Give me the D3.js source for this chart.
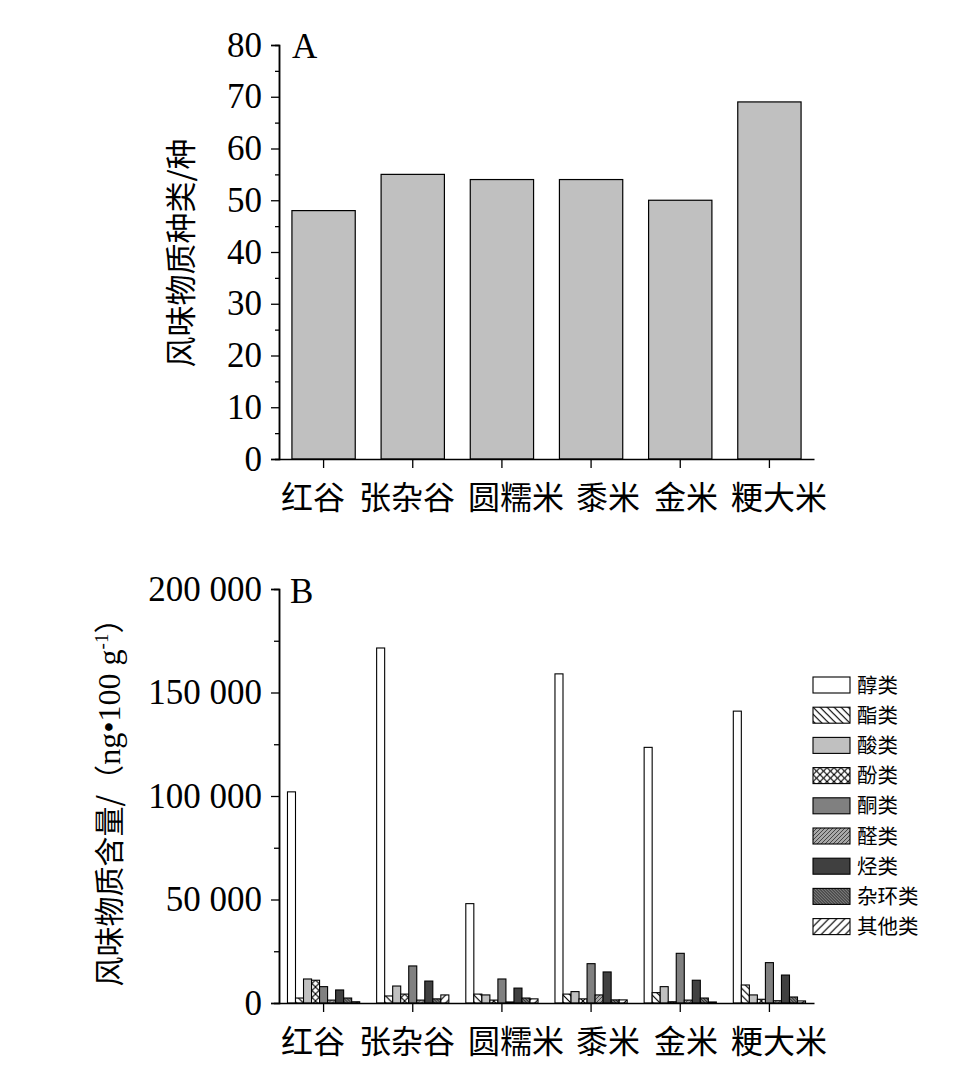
<!DOCTYPE html>
<html><head><meta charset="utf-8">
<script src="https://cdn.jsdelivr.net/npm/d3@7"></script>
<style>body{margin:0;background:#fff}svg{display:block}</style>
</head><body>
<svg id="c" width="973" height="1079"></svg>
<script>
const categories = ["红谷","张杂谷","圆糯米","黍米","金米","粳大米"];
const typeCounts = [48,55,54,54,50,69];
const classes = ["醇类","酯类","酸类","酚类","酮类","醛类","烃类","杂环类","其他类"];
const alcohols   = [102000,171500,48000,159000,123500,141000];
const esters     = [2400,3400,4300,4300,5000,8700];
const acids      = [11600,8200,3900,5500,7900,3900];
const phenols    = [11000,4300,1400,2000,600,1800];
const ketones    = [7900,17900,11600,19000,24000,19500];
const aldehydes  = [1400,1400,500,3900,1400,1100];
const hydrocarbons=[6300,10600,7200,15000,11000,13500];
const heterocycles=[2400,2000,2400,1500,2400,2900];
const others     = [600,3900,2000,1500,500,1000];
const seriesB = [alcohols,esters,acids,phenols,ketones,aldehydes,hydrocarbons,heterocycles,others];
const ticksA = [0,10,20,30,40,50,60,70,80];
const ticksB = [0,50000,100000,150000,200000];
const tickLabelsB = ["0","50 000","100 000","150 000","200 000"];
// label-row centres as laid out in the reference text line
const labelCentres = [313,407,516,608,686,779];

const svg = d3.select("#c");
const serif = "'Liberation Serif','DejaVu Serif',serif";
const cjk = "'Noto Sans CJK SC',sans-serif";
const defs = svg.append("defs");
function hatch(id,bg,col,sp,dirs,sw){
  const p = defs.append("pattern").attr("id",id).attr("patternUnits","userSpaceOnUse")
    .attr("width",sp).attr("height",sp);
  p.append("rect").attr("width",sp).attr("height",sp).attr("fill",bg);
  dirs.forEach(d=>{
    if(d==="/"){
      p.append("path").attr("d",`M0,${sp} L${sp},0 M${-sp/2},${sp/2} L${sp/2},${-sp/2} M${sp/2},${sp*1.5} L${sp*1.5},${sp/2}`).attr("stroke",col).attr("stroke-width",sw);
    } else {
      p.append("path").attr("d",`M0,0 L${sp},${sp} M${-sp/2},${sp/2} L${sp/2},${sp*1.5} M${sp/2},${-sp/2} L${sp*1.5},${sp/2}`).attr("stroke",col).attr("stroke-width",sw);
    }
  });
}
hatch("p1","#fff","#000",7,["\\"],1.2);
hatch("p3","#fff","#000",7,["/","\\"],1.1);
hatch("p5","#a8a8a8","#444",4,["/"],1);
hatch("p7","#777","#222",3,["\\"],0.9);
hatch("p8","#fff","#000",8,["/"],1.2);
const fills = ["#ffffff","url(#p1)","#c0c0c0","url(#p3)","#808080","url(#p5)","#404040","url(#p7)","url(#p8)"];

const x0 = 279, x1 = 814;
function labelRow(g,y){
  g.append("g").selectAll("text").data(categories).join("text")
    .attr("x",(d,i)=>labelCentres[i]).attr("y",y).attr("text-anchor","middle")
    .attr("font-family",cjk).attr("font-size",32).attr("fill","#000").text(d=>d);
}
// ---------- Panel A ----------
const xA = d3.scaleBand().domain(categories).range([x0,x1]).paddingInner(0.29).paddingOuter(0.145);
const yA = d3.scaleLinear().domain([0,80]).range([459,45]);
const gA = svg.append("g");
gA.selectAll("rect.a").data(categories).join("rect")
  .attr("x",d=>xA(d)).attr("width",xA.bandwidth())
  .attr("y",(d,i)=>yA(typeCounts[i])).attr("height",(d,i)=>yA(0)-yA(typeCounts[i]))
  .attr("fill","#c0c0c0").attr("stroke","#000").attr("stroke-width",1.2);
gA.append("g").attr("transform",`translate(${x0},0)`)
  .call(d3.axisLeft(yA).tickValues(d3.range(5,80,10)).tickSize(4).tickFormat(""));
const yAxisA2 = gA.append("g").attr("transform",`translate(${x0},0)`)
  .call(d3.axisLeft(yA).tickValues(ticksA).tickSize(8).tickPadding(9).tickFormat(d3.format("d")));
yAxisA2.selectAll("text").attr("font-family",serif).attr("font-size",35).attr("fill","#000");
gA.append("g").attr("transform",`translate(0,${yA(0)})`)
  .call(d3.axisBottom(xA).tickSize(9).tickSizeOuter(0).tickFormat(""));
gA.selectAll(".domain").attr("stroke","#000").attr("stroke-width",1.5);
gA.selectAll(".tick line").attr("stroke","#000").attr("stroke-width",1.3);
gA.append("text").attr("x",292).attr("y",58).attr("font-family",serif).attr("font-size",35).text("A");
gA.append("text").attr("transform","translate(192,253) rotate(-90)").attr("text-anchor","middle")
  .attr("font-family",cjk).attr("font-size",31).text("风味物质种类/种");
labelRow(gA,509);

// ---------- Panel B ----------
const xB = d3.scaleBand().domain(categories).range([x0,x1]).paddingInner(0.19).paddingOuter(0.095);
const xBi = d3.scaleBand().domain(classes).range([0,xB.bandwidth()]);
const yB = d3.scaleLinear().domain([0,200000]).range([1003,589]);
const gB = svg.append("g");
const grp = gB.selectAll("g.grp").data(categories).join("g").attr("transform",d=>`translate(${xB(d)},0)`);
grp.selectAll("rect").data((d,ci)=>classes.map((k,ki)=>({k,ki,v:seriesB[ki][ci]}))).join("rect")
  .attr("x",d=>xBi(d.k)).attr("width",xBi.bandwidth())
  .attr("y",d=>yB(d.v)).attr("height",d=>yB(0)-yB(d.v))
  .attr("fill",d=>fills[d.ki]).attr("stroke","#000").attr("stroke-width",1.1);
gB.append("g").attr("transform",`translate(${x0},0)`)
  .call(d3.axisLeft(yB).tickValues(d3.range(25000,200000,50000)).tickSize(5).tickFormat(""));
const yAxisB = gB.append("g").attr("transform",`translate(${x0},0)`)
  .call(d3.axisLeft(yB).tickValues(ticksB).tickSize(8).tickPadding(9).tickFormat((d,i)=>tickLabelsB[i]));
yAxisB.selectAll("text").attr("font-family",serif).attr("font-size",35).attr("fill","#000");
gB.append("g").attr("transform",`translate(0,${yB(0)})`)
  .call(d3.axisBottom(xB).tickSize(9).tickSizeOuter(0).tickFormat(""));
gB.selectAll(".domain").attr("stroke","#000").attr("stroke-width",1.5);
gB.selectAll(".tick line").attr("stroke","#000").attr("stroke-width",1.3);
gB.append("text").attr("x",290).attr("y",603).attr("font-family",serif).attr("font-size",35).text("B");
const tB = gB.append("text").attr("transform","translate(120,795) rotate(-90)").attr("text-anchor","middle")
  .attr("font-size",30).attr("fill","#000");
tB.append("tspan").attr("font-family",cjk).text("风味物质含量/（");
tB.append("tspan").attr("font-family",serif).attr("font-size",32).text("ng\u2022100 g");
tB.append("tspan").attr("font-family",serif).attr("font-size",19).attr("dy",-12).text("-1");
tB.append("tspan").attr("font-family",cjk).attr("dy",12).text("）");
labelRow(gB,1053);

// legend
const lg = gB.append("g").attr("transform","translate(813,677)");
const li = lg.selectAll("g").data(classes).join("g").attr("transform",(d,i)=>`translate(0,${i*30.2})`);
li.append("rect").attr("width",37).attr("height",16).attr("fill",(d,i)=>fills[i]).attr("stroke","#000").attr("stroke-width",1.1);
li.append("text").attr("x",44).attr("y",15.5).attr("font-family",cjk).attr("font-size",20.5).text(d=>d);
</script>
</body></html>
